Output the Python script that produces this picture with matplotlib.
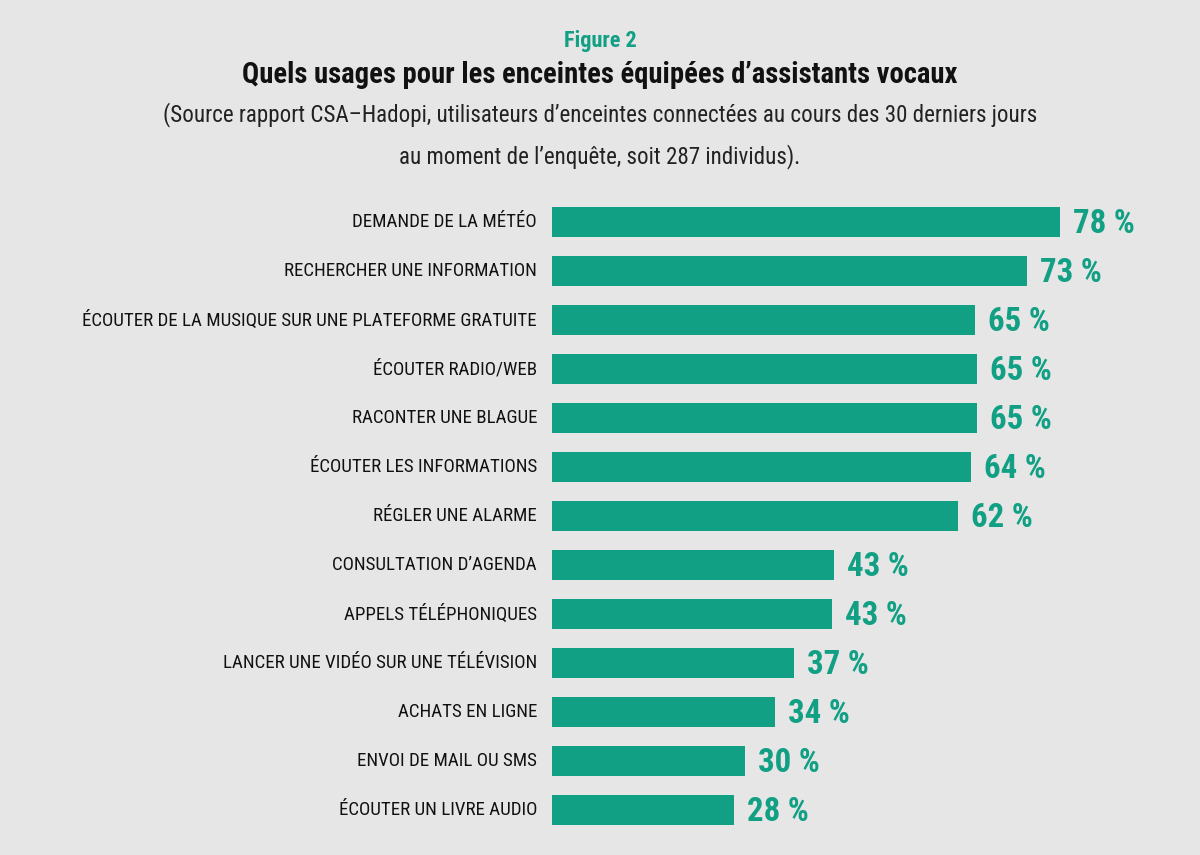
import matplotlib
matplotlib.use("Agg")
import matplotlib.pyplot as plt
from matplotlib import font_manager as fm
from matplotlib.font_manager import FontProperties

# ---------------- data ----------------
categories = [
    "DEMANDE DE LA MÉTÉO",
    "RECHERCHER UNE INFORMATION",
    "ÉCOUTER DE LA MUSIQUE SUR UNE PLATEFORME GRATUITE",
    "ÉCOUTER RADIO/WEB",
    "RACONTER UNE BLAGUE",
    "ÉCOUTER LES INFORMATIONS",
    "RÉGLER UNE ALARME",
    "CONSULTATION D\u2019AGENDA",
    "APPELS TÉLÉPHONIQUES",
    "LANCER UNE VIDÉO SUR UNE TÉLÉVISION",
    "ACHATS EN LIGNE",
    "ENVOI DE MAIL OU SMS",
    "ÉCOUTER UN LIVRE AUDIO",
]
values = [78, 73, 65, 65.3, 65.2, 64.3, 62.3, 43.3, 43, 37.2, 34.2, 29.6, 28]
value_labels = ["78 %", "73 %", "65 %", "65 %", "65 %", "64 %", "62 %",
                "43 %", "43 %", "37 %", "34 %", "30 %", "28 %"]

fig_label = "Figure 2"
title = "Quels usages pour les enceintes équipées d\u2019assistants vocaux"
subtitle1 = "(Source rapport CSA\u2013Hadopi, utilisateurs d\u2019enceintes connectées au cours des 30 derniers jours"
subtitle2 = "au moment de l\u2019enquête, soit 287 individus)."

# ---------------- style ----------------
BG = "#e6e6e6"
GREEN = "#12a085"
DARK = "#111111"


def _w(f):
    w = f.weight
    if isinstance(w, str):
        w = fm.weight_dict.get(w, 400)
    return int(w)


def find_font(bold):
    cands = [("Roboto Condensed", None), ("Liberation Sans Narrow", None),
             ("DejaVu Sans", "condensed"), ("Roboto", None)]
    for fam, stretch in cands:
        best = None
        for f in fm.fontManager.ttflist:
            if f.name != fam or f.style != "normal":
                continue
            if stretch is not None and f.stretch != stretch:
                continue
            w = _w(f)
            if (w >= 600) == bold:
                if best is None or abs(w - (700 if bold else 400)) < abs(_w(best) - (700 if bold else 400)):
                    best = f
        if best is not None:
            return best.fname
    return None


reg_path = find_font(False)
bold_path = find_font(True)


def fp(bold, size):
    path = bold_path if bold else reg_path
    if path:
        return FontProperties(fname=path, size=size)
    return FontProperties(family="DejaVu Sans", weight="bold" if bold else "normal", size=size)


W, H = 1200, 855
fig = plt.figure(figsize=(W / 100, H / 100), dpi=100)
fig.patch.set_facecolor(BG)
renderer = fig.canvas.get_renderer()


def fit_size(text, bold, target_px, max_size):
    t = fig.text(0, 0, text, fontproperties=fp(bold, max_size))
    wpx = t.get_window_extent(renderer).width
    t.remove()
    return min(max_size, max_size * target_px / wpx)


# axes geometry (pixels)
x0_px = 552
px_per_unit = (1060 - 552) / 78.0
top_px, step = 222 - 24.5, 49.0
bottom_px = top_px + step * len(categories)

ax = fig.add_axes([x0_px / W, 1 - bottom_px / H, (W - x0_px) / W, (bottom_px - top_px) / H])
ax.set_facecolor("none")
ax.set_xlim(0, (W - x0_px) / px_per_unit)
ypos = list(range(len(categories)))
ax.barh(ypos, values, height=0.61, color=GREEN, edgecolor="none")
ax.set_ylim(len(categories) - 0.5, -0.5)
for s in ax.spines.values():
    s.set_visible(False)
ax.set_xticks([])
ax.set_yticks([])

# category labels
longest = max(categories, key=len)
lab_size = fit_size(longest, False, 537 - 82, 14)
num_size = fit_size("78 %", True, 62, 24)
for y, lab, v, vl in zip(ypos, categories, values, value_labels):
    ax.annotate(lab, xy=(0, y), xytext=(-15, 0), textcoords="offset pixels",
                ha="right", va="center", color=DARK, fontproperties=fp(False, lab_size))
    ax.annotate(vl, xy=(v, y), xytext=(13, -2), textcoords="offset pixels",
                ha="left", va="center", color=GREEN, fontproperties=fp(True, num_size))

# titles
fig.text(0.5, 1 - 41 / H, fig_label, ha="center", va="center", color=GREEN,
         fontproperties=fp(True, fit_size(fig_label, True, 638 - 562, 16)))
fig.text(0.5, 1 - 75 / H, title, ha="center", va="center", color=DARK,
         fontproperties=fp(True, fit_size(title, True, 958 - 243, 21)))
sub_size = fit_size(subtitle1, False, 1037 - 165, 18)
fig.text(0.5, 1 - 115 / H, subtitle1, ha="center", va="center", color="#222222",
         fontproperties=fp(False, sub_size))
fig.text(0.5, 1 - 157 / H, subtitle2, ha="center", va="center", color="#222222",
         fontproperties=fp(False, sub_size))

fig.savefig("out.png", dpi=100, facecolor=BG)
